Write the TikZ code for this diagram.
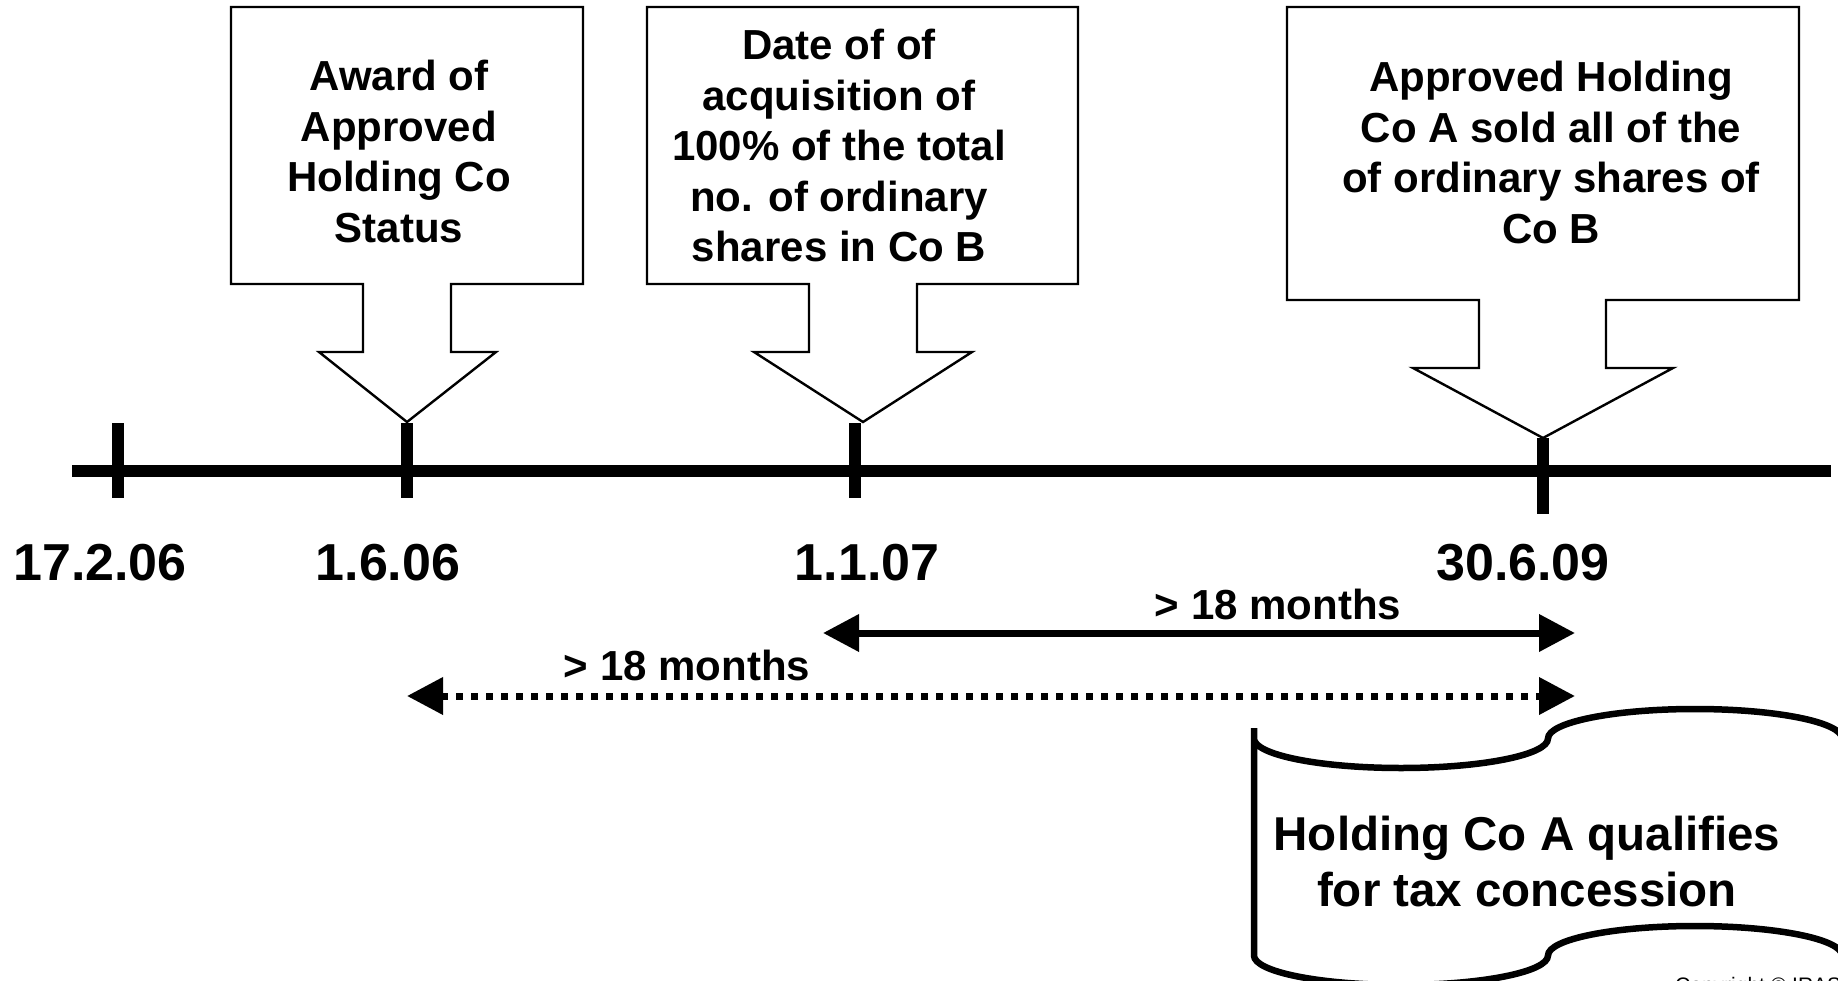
\documentclass[tikz,border=0pt]{standalone}
\usepackage{fontspec}
\setmainfont{Liberation Sans}
\usetikzlibrary{arrows.meta}
\begin{document}
\begin{tikzpicture}[x=1pt,y=-1pt,
  callout/.style={draw=black,line width=2.4pt,fill=white,line join=miter},
  calltext/.style={font=\fontsize{42}{50.5}\selectfont\bfseries,align=center,inner sep=0pt,anchor=north},
  datelabel/.style={font=\fontsize{52}{60}\selectfont\bfseries,anchor=base,inner sep=0pt},
  spanlabel/.style={font=\fontsize{42}{50}\selectfont\bfseries,anchor=base,inner sep=0pt},
  axisline/.style={line width=12pt},
  tickmark/.style={line width=12pt},
  span/.style={line width=7pt,{Triangle[length=36pt,width=36pt]}-{Triangle[length=36pt,width=36pt]}},
  dotspan/.style={span,dash pattern=on 7pt off 8pt},
  scroll/.style={draw=black,line width=6.5pt,fill=white,line join=miter},
  scrolltext/.style={font=\fontsize{47.5}{56}\selectfont\bfseries,align=center,inner sep=0pt,anchor=north}
]
\useasboundingbox (0,0) rectangle (1838,981);
\fill[white] (0,0) rectangle (1838,981);

% callouts pointing at the time line
\draw[callout] (363,284) -- (231,284) -- (231,7) -- (583,7) -- (583,284) -- (451,284)
  -- (451,352) -- (496,352) -- (407,422) -- (319,352) -- (363,352) -- cycle;
\draw[callout] (809,284) -- (647,284) -- (647,7) -- (1078,7) -- (1078,284) -- (917,284)
  -- (917,352) -- (972,352) -- (863,422) -- (754,352) -- (809,352) -- cycle;
\draw[callout] (1479,300) -- (1287,300) -- (1287,7) -- (1799,7) -- (1799,300) -- (1606,300)
  -- (1606,368) -- (1673,368) -- (1543,438) -- (1413,368) -- (1479,368) -- cycle;

\node[calltext] (award) at (399,60.3) {Award of\\Approved\\Holding Co\\Status};
\node[calltext] (acq) at (839,29.3) {Date of of\\acquisition of\\100\% of the total\\no. of ordinary\\shares in Co B};
\node[calltext] (sold) at (1551,61.3) {Approved Holding\\Co A sold all of the\\of ordinary shares of\\Co B};

% time line and ticks
\coordinate (lineL) at (72,471);
\coordinate (lineR) at (1831,471);
\draw[axisline] (lineL) -- (lineR);

\coordinate (t1a) at (118,423);  \coordinate (t1b) at (118,498);
\coordinate (t2a) at (407,423);  \coordinate (t2b) at (407,498);
\coordinate (t3a) at (855,423);  \coordinate (t3b) at (855,498);
\coordinate (t4a) at (1543,438); \coordinate (t4b) at (1543,514);
\draw[tickmark] (t1a) -- (t1b);
\draw[tickmark] (t2a) -- (t2b);
\draw[tickmark] (t3a) -- (t3b);
\draw[tickmark] (t4a) -- (t4b);

\node[datelabel] (d1) at (100,580) {17.2.06};
\node[datelabel] (d2) at (388,580) {1.6.06};
\node[datelabel] (d3) at (867,580) {1.1.07};
\node[datelabel] (d4) at (1523,580) {30.6.09};

% periods
\coordinate (sA) at (823,633);  \coordinate (sB) at (1575,633);
\coordinate (pA) at (407,696);  \coordinate (pB) at (1575,696);
\draw[span] (sA) -- (sB);
\draw[dotspan] (pA) -- (pB);
\node[spanlabel] (m1) at (1278,619) {> 18 months};
\node[spanlabel] (m2) at (687,680) {> 18 months};

% result banner
\draw[scroll] (1254,738.5)
  arc[start angle=180,end angle=0,x radius=147,y radius=29.5]
  arc[start angle=180,end angle=360,x radius=147,y radius=29.5]
  -- (1842,955.5)
  arc[start angle=0,end angle=-180,x radius=147,y radius=29.5]
  arc[start angle=0,end angle=180,x radius=147,y radius=29.5]
  -- (1254,728);
\node[scrolltext] (result) at (1527,815.5) {Holding Co A qualifies\\for tax concession};

\node[anchor=base west,font=\fontsize{21}{25}\selectfont,inner sep=0pt] (copy) at (1675,992) {Copyright © IRAS};
\end{tikzpicture}
\end{document}
